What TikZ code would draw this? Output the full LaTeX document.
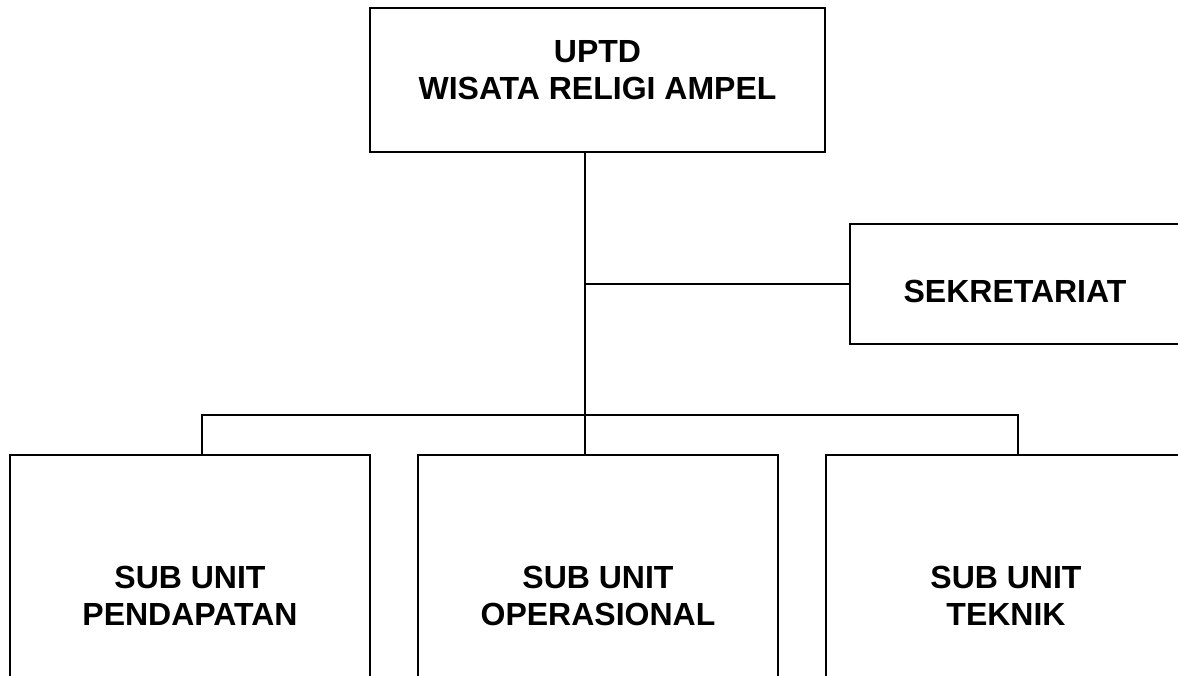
\documentclass[tikz,border=0pt]{standalone}
\usepackage{fontspec}
\setmainfont{Liberation Sans}
\begin{document}
\begin{tikzpicture}[x=1pt,y=-1pt,
  box/.style={draw=black,line width=1.8pt,rectangle,inner sep=0pt},
  txt/.style={align=center,font=\fontsize{32}{36.5}\selectfont\bfseries,inner sep=0pt},
  conn/.style={draw=black,line width=1.8pt}]
\clip (0,0) rectangle (1178,675);
\fill[white] (0,0) rectangle (1178,675);
% boxes
\node[box,minimum width=455pt,minimum height=144pt] (top) at (597.5,80) {};
\node[box,minimum width=340pt,minimum height=120pt] (sek) at (1020,284) {};
\node[box,minimum width=360pt,minimum height=260pt] (left) at (190,585) {};
\node[box,minimum width=360pt,minimum height=260pt] (mid) at (598,585) {};
\node[box,minimum width=360pt,minimum height=260pt] (right) at (1006,585) {};
% texts
\node[txt] (topt) at (597.5,70) {UPTD\\WISATA RELIGI AMPEL};
\node[txt] (sekt) at (1015,291.5) {SEKRETARIAT};
\node[txt] (leftt) at (190,596) {SUB UNIT\\PENDAPATAN};
\node[txt] (midt) at (598,596) {SUB UNIT\\OPERASIONAL};
\node[txt] (rightt) at (1006,596) {SUB UNIT\\TEKNIK};
% connectors
\coordinate (bm) at (585,415);
\coordinate (bl) at (202,415);
\coordinate (br) at (1018,415);
\draw[conn] (bm |- top.south) -- (bm |- mid.north);
\draw[conn] (bm |- sek.west) -- (sek.west);
\draw[conn] (bl |- left.north) -- (bl) -- (br) -- (br |- right.north);
\end{tikzpicture}
\end{document}
